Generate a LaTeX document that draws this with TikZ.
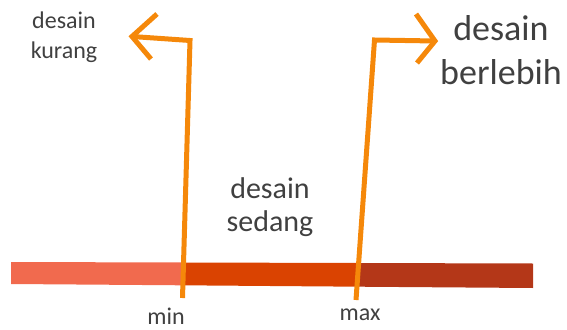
\documentclass[tikz,border=0pt]{standalone}
\usepackage{fontspec}
\setmainfont{Carlito}
\definecolor{barlight}{HTML}{F16A4E}
\definecolor{barmid}{HTML}{DA4301}
\definecolor{bardark}{HTML}{B43718}
\definecolor{limitorange}{HTML}{F5880A}
\definecolor{labelgray}{HTML}{404040}
\tikzset{
  label24/.style={text=labelgray, inner sep=0pt, align=center, font=\fontsize{24}{30}\selectfont},
  label30/.style={text=labelgray, inner sep=0pt, align=center, font=\fontsize{30}{33}\selectfont},
  label36/.style={text=labelgray, inner sep=0pt, align=center, font=\fontsize{36}{44}\selectfont},
  limitline/.style={draw=limitorange, line width=5pt, line join=miter, line cap=butt},
}
\begin{document}
\begin{tikzpicture}[x=1pt,y=-1pt]
\useasboundingbox (0,0) rectangle (567,329);

% scale bar, three zones
\fill[barlight] (11,262) -- (182,262.5) -- (182,285.3) -- (11,284) -- cycle;
\fill[barmid] (182,262.5) -- (359,263) -- (359,286.7) -- (182,285.3) -- cycle;
\fill[bardark] (359,263) -- (533,263.5) -- (533,288) -- (359,286.7) -- cycle;

% minimum limit arrow
\coordinate (minbot) at (182.5,298);
\coordinate (mincorner) at (190,40.5);
\coordinate (mintip) at (132,36.5);
\coordinate (minarmA) at (157,14);
\coordinate (minarmB) at (151,59);
\draw[limitline] (minbot) -- (mincorner) -- (mintip);
\draw[limitline] (minarmA) -- (mintip) -- (minarmB);

% maximum limit arrow
\coordinate (maxbot) at (356,300);
\coordinate (maxcorner) at (374.5,40);
\coordinate (maxtip) at (435,41);
\coordinate (maxarmA) at (416,14);
\coordinate (maxarmB) at (417,63);
\draw[limitline] (maxbot) -- (maxcorner) -- (maxtip);
\draw[limitline] (maxarmA) -- (maxtip) -- (maxarmB);

% labels
\node[label24] (kurang) at (64,37) {desain\\kurang};
\node[label36] (lebih) at (501,50) {desain\\berlebih};
\node[label30] (sedang) at (270,207) {desain\\sedang};
\node[label24, anchor=base] (minlabel) at (166,324) {min};
\node[label24, anchor=base] (maxlabel) at (360,320) {max};
\end{tikzpicture}
\end{document}
